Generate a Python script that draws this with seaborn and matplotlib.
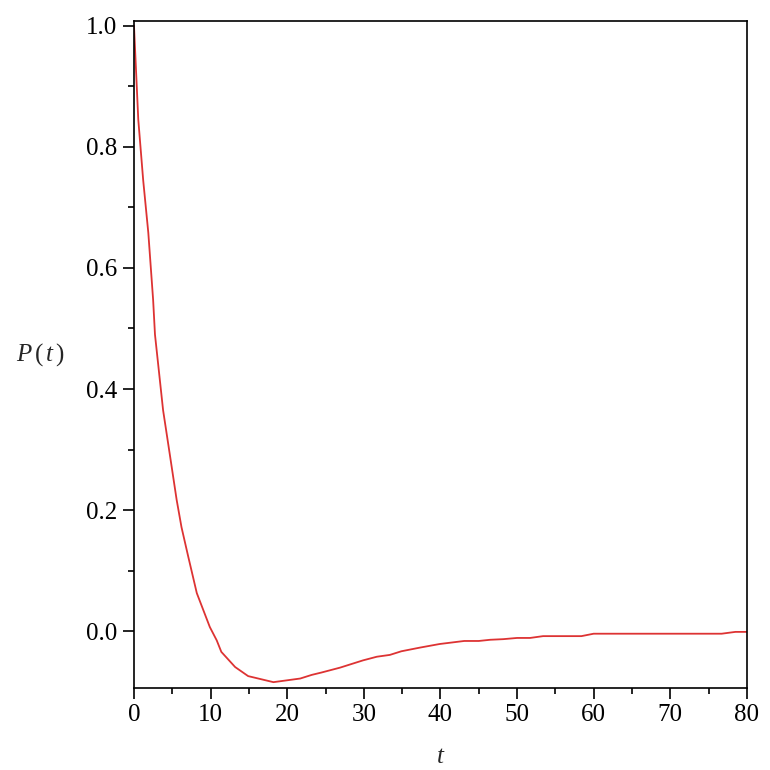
import numpy as np
import pandas as pd
import seaborn as sns
import matplotlib.pyplot as plt
from matplotlib.ticker import MultipleLocator

# values
t = [0, 0.56, 1.2, 1.87, 2.5, 2.74, 3.8, 4.7, 5.57, 6.2, 7.05, 8.2, 9.9,
     10.8, 11.4, 13.2, 14.9, 18.2, 21.7, 23.2, 24.5, 26.9, 29.9, 31.7, 33.4,
     34.9, 37.3, 39.9, 43.1, 45.0, 46.5, 48.2, 50.0, 51.7, 53.4, 58.4, 60.0,
     76.7, 78.5, 80.0]
p = [1.0, 0.845, 0.745, 0.658, 0.547, 0.49, 0.365, 0.29, 0.217, 0.172, 0.125,
     0.063, 0.007, -0.015, -0.034, -0.059, -0.074, -0.084, -0.078, -0.072,
     -0.068, -0.060, -0.048, -0.042, -0.039, -0.033, -0.027, -0.021, -0.016,
     -0.016, -0.014, -0.013, -0.011, -0.011, -0.008, -0.008, -0.004, -0.004,
     -0.001, -0.001]

df = pd.DataFrame({'t': t, 'P': p})

sns.set_style('ticks')
plt.rcParams['font.family'] = ['Liberation Serif', 'DejaVu Serif']
plt.rcParams['mathtext.fontset'] = 'custom'
plt.rcParams['mathtext.rm'] = 'Liberation Serif'
plt.rcParams['mathtext.it'] = 'Liberation Serif:italic'

fig = plt.figure(figsize=(7.7, 7.7), dpi=100)
ax = fig.add_axes([0.174, 0.107, 0.796, 0.866])

sns.lineplot(data=df, x='t', y='P', ax=ax, color='#dd3333', linewidth=1.3)

ax.set_xlim(0, 80)
ax.set_ylim(-0.093, 1.008)
ax.xaxis.set_major_locator(MultipleLocator(10))
ax.xaxis.set_minor_locator(MultipleLocator(5))
ax.yaxis.set_major_locator(MultipleLocator(0.2))
ax.yaxis.set_minor_locator(MultipleLocator(0.1))
ax.yaxis.set_major_formatter(plt.FuncFormatter(lambda v, _: f'{v:.1f}'))

for s in ax.spines.values():
    s.set_linewidth(1.2)
    s.set_color('black')
ax.tick_params(which='major', length=8, width=1.2, labelsize=18, colors='black', pad=4)
ax.tick_params(which='minor', length=4, width=1.2, colors='black')

ax.set_xlabel(r'$t$', fontsize=18)
ax.set_ylabel(r'$P\,(\,t\,)$', fontsize=18, rotation=0, ha='center', va='center')
ax.xaxis.set_label_coords(0.5, -0.087)
ax.yaxis.set_label_coords(-0.152, 0.5)

fig.savefig('out.png', dpi=100)
